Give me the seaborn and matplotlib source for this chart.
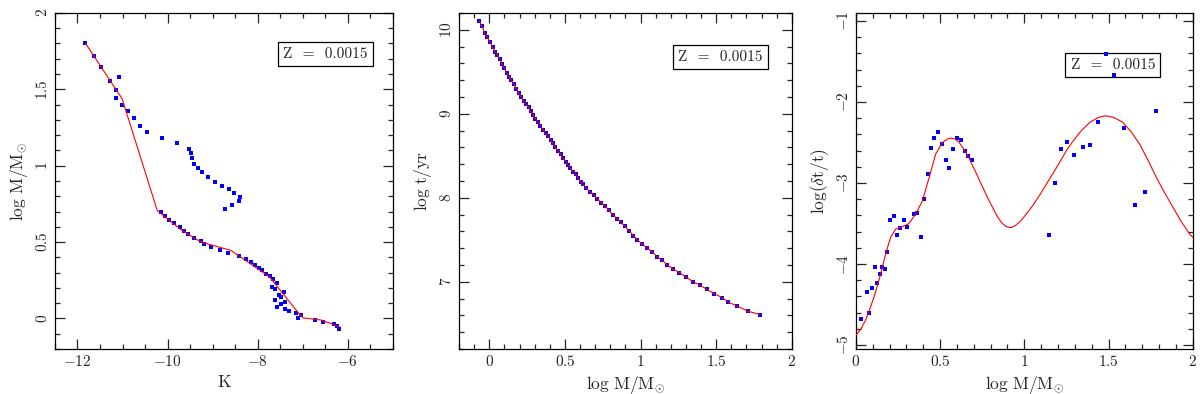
import matplotlib
matplotlib.use("Agg")
import matplotlib.pyplot as plt
import seaborn as sns
from matplotlib.ticker import MultipleLocator, FuncFormatter

# panel 1: K magnitude vs log mass
k_pts = [-11.83, -11.64, -11.47, -11.27, -11.08, -11.15, -11.15, -11.01, -10.87, -10.74,
         -10.61, -10.45, -10.12, -9.80, -9.52, -9.49, -9.46, -9.41, -9.32, -9.23,
         -9.11, -8.95, -8.80, -8.64, -8.52, -8.40, -8.42, -8.57, -8.72,
         -10.15, -10.06, -9.97, -9.86, -9.73, -9.63, -9.54, -9.41, -9.27, -9.19,
         -9.04, -8.84, -8.65, -8.42, -8.26, -8.16, -8.06, -7.98, -7.91, -7.81,
         -7.74, -7.66, -7.58, -7.68, -7.62, -7.41, -7.52, -7.48, -7.62, -7.40,
         -7.49, -7.58, -7.40, -7.31, -7.16, -7.05, -7.10, -6.73, -6.55, -6.32,
         -6.24, -6.19]
logm_pts = [1.80, 1.72, 1.645, 1.556, 1.58, 1.495, 1.446, 1.40, 1.357, 1.31,
            1.263, 1.218, 1.181, 1.146, 1.109, 1.083, 1.052, 1.013, 0.985, 0.956,
            0.926, 0.895, 0.869, 0.845, 0.818, 0.794, 0.767, 0.741, 0.719,
            0.695, 0.669, 0.643, 0.623, 0.597, 0.575, 0.553, 0.529, 0.510, 0.490,
            0.471, 0.449, 0.431, 0.407, 0.386, 0.370, 0.351, 0.331, 0.314, 0.294,
            0.277, 0.257, 0.235, 0.207, 0.192, 0.175, 0.155, 0.142, 0.124, 0.105,
            0.092, 0.078, 0.065, 0.048, 0.035, 0.020, 0.005, -0.013, -0.024, -0.039,
            -0.052, -0.067]
k_fit = [-11.82, -11.01, -10.23, -9.70, -9.26, -8.60, -7.74, -7.13, -7.00, -6.60, -6.19]
logm_fit = [1.80, 1.438, 0.706, 0.58, 0.50, 0.446, 0.272, 0.048, 0.004, -0.01, -0.054]

# panel 2: log mass vs log age
m_age = [-0.065, -0.047, -0.030, -0.013, 0.005, 0.022, 0.037, 0.054, 0.069, 0.085,
         0.100, 0.115, 0.130, 0.145, 0.163, 0.178, 0.195, 0.210, 0.227, 0.243,
         0.260, 0.275, 0.290, 0.305, 0.323, 0.338, 0.355, 0.373, 0.390, 0.405,
         0.420, 0.437, 0.455, 0.472, 0.487, 0.505, 0.520, 0.537, 0.554, 0.572,
         0.589, 0.604, 0.621, 0.639,
         0.665, 0.693, 0.714, 0.740, 0.766, 0.790, 0.818, 0.844, 0.868, 0.896,
         0.924, 0.953, 0.979, 1.011, 1.044, 1.076, 1.108, 1.141, 1.178, 1.217,
         1.256, 1.299, 1.347, 1.394, 1.437, 1.487, 1.541, 1.580, 1.639, 1.710, 1.790]
log_age = [10.10, 10.04, 9.96, 9.91, 9.85, 9.79, 9.74, 9.70, 9.65, 9.59,
           9.54, 9.49, 9.44, 9.40, 9.35, 9.30, 9.25, 9.20, 9.15, 9.12,
           9.08, 9.03, 8.98, 8.94, 8.90, 8.86, 8.81, 8.77, 8.73, 8.69,
           8.65, 8.60, 8.56, 8.52, 8.47, 8.43, 8.39, 8.35, 8.31, 8.28,
           8.23, 8.19, 8.16, 8.12,
           8.07, 8.03, 7.99, 7.94, 7.90, 7.85, 7.80, 7.75, 7.71, 7.66,
           7.61, 7.55, 7.50, 7.45, 7.40, 7.36, 7.30, 7.26, 7.20, 7.15,
           7.11, 7.06, 7.00, 6.96, 6.91, 6.86, 6.81, 6.76, 6.71, 6.65, 6.61]

# panel 3: log mass vs log(dt/t)
m_dt = [0.032, 0.079, 0.064, 0.093, 0.127, 0.143, 0.111, 0.157, 0.173, 0.186,
        0.204, 0.224, 0.246, 0.264, 0.284, 0.304, 0.345, 0.365, 0.385, 0.405,
        0.427, 0.446, 0.464, 0.486, 0.510, 0.532, 0.554, 0.575, 0.599, 0.621,
        0.645, 0.665, 0.689, 1.148, 1.183, 1.220, 1.252, 1.298, 1.347, 1.391,
        1.438, 1.484, 1.532, 1.595, 1.657, 1.718, 1.782]
log_dt = [-4.68, -4.61, -4.35, -4.30, -4.23, -4.12, -4.04, -4.04, -4.06, -3.85,
          -3.46, -3.41, -3.64, -3.55, -3.46, -3.54, -3.38, -3.37, -3.67, -3.20,
          -2.89, -2.57, -2.44, -2.37, -2.52, -2.71, -2.82, -2.58, -2.44, -2.47,
          -2.60, -2.67, -2.72, -3.64, -3.00, -2.58, -2.50, -2.65, -2.55, -2.535,
          -2.244, -1.41, -1.665, -2.318, -3.27, -3.11, -2.108]
m_dt_fit = [0.0, 0.03, 0.058, 0.08, 0.107, 0.127, 0.147, 0.177, 0.206, 0.236,
            0.276, 0.315, 0.355, 0.395, 0.435, 0.474, 0.514, 0.54, 0.564, 0.59,
            0.613, 0.643, 0.673, 0.712, 0.752, 0.791, 0.831, 0.851, 0.87, 0.89,
            0.911, 0.93, 0.95, 0.97, 0.99, 1.02, 1.05, 1.10,
            1.15, 1.20, 1.25, 1.29, 1.34, 1.39, 1.44, 1.482, 1.53, 1.585,
            1.635, 1.685, 1.735, 1.784, 1.833, 1.883, 1.93, 1.982, 2.0]
log_dt_fit = [-4.88, -4.80, -4.69, -4.57, -4.41, -4.27, -4.12, -3.87, -3.67, -3.57,
              -3.54, -3.50, -3.38, -3.22, -2.93, -2.64, -2.50, -2.46, -2.445, -2.46,
              -2.50, -2.59, -2.70, -2.87, -3.05, -3.22, -3.38, -3.45, -3.50, -3.535,
              -3.55, -3.545, -3.52, -3.485, -3.44, -3.36, -3.28, -3.12,
              -2.95, -2.78, -2.60, -2.48, -2.35, -2.25, -2.19, -2.17, -2.19, -2.25,
              -2.37, -2.52, -2.72, -2.93, -3.12, -3.30, -3.47, -3.63, -3.67]

sns.set_style("ticks")
plt.rcParams['font.family'] = ['cmr10', 'DejaVu Serif']
plt.rcParams['mathtext.fontset'] = 'cm'
plt.rcParams['axes.formatter.use_mathtext'] = True
plt.rcParams['axes.unicode_minus'] = True

fig = plt.figure(figsize=(12, 3.94), dpi=100)
ax1 = fig.add_axes([0.0458, 0.1142, 0.2817, 0.853])
ax2 = fig.add_axes([0.3825, 0.1142, 0.2773, 0.853])
ax3 = fig.add_axes([0.7133, 0.1142, 0.2806, 0.853])

blue = '#0000ff'
msize = 11
fmt = FuncFormatter(lambda v, p: f'${v:g}$')

# 1. K vs log M
sns.scatterplot(x=k_pts, y=logm_pts, ax=ax1, marker='s', s=msize, color=blue, linewidth=0, zorder=2)
sns.lineplot(x=k_fit, y=logm_fit, ax=ax1, sort=False, estimator=None, color='red', lw=0.8, zorder=3)
ax1.set_xlim(-12.5, -5)
ax1.set_ylim(-0.2, 2)
ax1.xaxis.set_major_locator(MultipleLocator(2))
ax1.xaxis.set_minor_locator(MultipleLocator(0.5))
ax1.yaxis.set_major_locator(MultipleLocator(0.5))
ax1.yaxis.set_minor_locator(MultipleLocator(0.1))
ax1.set_xlabel('K')
ax1.set_ylabel(r'$\mathrm{log\ M/M_{\odot}}$')

# 2. log M vs log age
sns.scatterplot(x=m_age, y=log_age, ax=ax2, marker='s', s=msize, color=blue, linewidth=0, zorder=2)
sns.lineplot(x=m_age, y=log_age, ax=ax2, sort=False, estimator=None, color='red', lw=0.8, zorder=3)
ax2.set_xlim(-0.2, 2)
ax2.set_ylim(6.2, 10.2)
ax2.xaxis.set_major_locator(MultipleLocator(0.5))
ax2.xaxis.set_minor_locator(MultipleLocator(0.1))
ax2.yaxis.set_major_locator(MultipleLocator(1))
ax2.yaxis.set_minor_locator(MultipleLocator(0.2))
ax2.set_xlabel(r'$\mathrm{log\ M/M_{\odot}}$')
ax2.set_ylabel(r'$\mathrm{log\ t/yr}$')

# 3. log M vs log(dt/t)
sns.scatterplot(x=m_dt, y=log_dt, ax=ax3, marker='s', s=msize, color=blue, linewidth=0, zorder=2)
sns.lineplot(x=m_dt_fit, y=log_dt_fit, ax=ax3, sort=False, estimator=None, color='red', lw=0.8, zorder=3)
ax3.set_xlim(0, 2)
ax3.set_ylim(-5.05, -0.9)
ax3.xaxis.set_major_locator(MultipleLocator(0.5))
ax3.xaxis.set_minor_locator(MultipleLocator(0.1))
ax3.yaxis.set_major_locator(MultipleLocator(1))
ax3.yaxis.set_minor_locator(MultipleLocator(0.2))
ax3.set_xlabel(r'$\mathrm{log\ M/M_{\odot}}$')
ax3.set_ylabel(r'$\mathrm{log(\delta t/t)}$')

box_pos = [(0.80, 0.878), (0.785, 0.869), (0.763, 0.845)]
for ax, (bx, by) in zip([ax1, ax2, ax3], box_pos):
    ax.xaxis.set_major_formatter(fmt)
    ax.yaxis.set_major_formatter(fmt)
    ax.text(bx, by, 'Z  =  0.0015', transform=ax.transAxes, ha='center', va='center',
            fontsize=11, zorder=1,
            bbox=dict(boxstyle='square,pad=0.35', fc='white', ec='black', lw=0.9))
    ax.tick_params(which='both', direction='in', top=True, right=True, labelsize=11, width=0.9)
    ax.tick_params(which='major', length=7)
    ax.tick_params(which='minor', length=3.5)
    ax.tick_params(axis='y', labelrotation=90)
    for lab in ax.get_yticklabels():
        lab.set_va('center')
    ax.xaxis.label.set_size(12.5)
    ax.yaxis.label.set_size(12.5)
    for sp in ax.spines.values():
        sp.set_linewidth(0.9)
        sp.set_color('black')

fig.savefig('out.png', dpi=100)
